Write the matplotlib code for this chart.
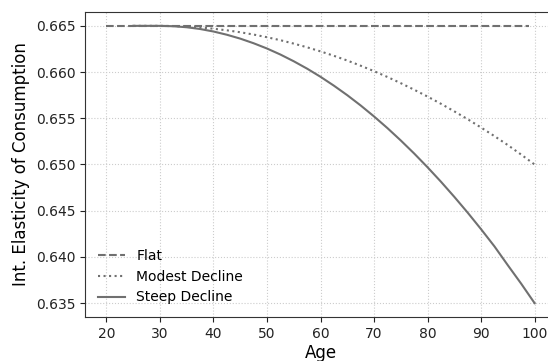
import matplotlib
matplotlib.use("Agg")
import matplotlib.pyplot as plt

flat_age = [20, 99]
flat_val = [0.665, 0.665]

curve_age = [25, 27.5, 30, 32.5, 35, 37.5, 40, 42.5, 45, 47.5, 50, 52.5, 55, 57.5, 60,
             62.5, 65, 67.5, 70, 72.5, 75, 77.5, 80, 82.5, 85, 87.5, 90, 92.5, 95, 97.5, 100]
modest_val = [0.66500, 0.66500, 0.66500, 0.66498, 0.66492, 0.66483, 0.66469, 0.66452,
              0.66431, 0.66406, 0.66377, 0.66345, 0.66308, 0.66268, 0.66224, 0.66176,
              0.66125, 0.66069, 0.66010, 0.65947, 0.65880, 0.65809, 0.65735, 0.65657,
              0.65575, 0.65490, 0.65400, 0.65307, 0.65210, 0.65107, 0.65000]
steep_val = [0.66500, 0.66500, 0.66500, 0.66496, 0.66485, 0.66466, 0.66439, 0.66404,
             0.66362, 0.66312, 0.66255, 0.66190, 0.66117, 0.66037, 0.65949, 0.65853,
             0.65750, 0.65639, 0.65520, 0.65394, 0.65260, 0.65119, 0.64970, 0.64814,
             0.64650, 0.64479, 0.64300, 0.64114, 0.63910, 0.63710, 0.63500]

labels = ["Flat", "Modest Decline", "Steep Decline"]
xticks = [20, 30, 40, 50, 60, 70, 80, 90, 100]

fig = plt.figure(figsize=(5.48, 3.61), dpi=100)
ax = fig.add_axes([85/548, 1 - 317/361, (556 - 85)/548, (317 - 12)/361])

col = "#707070"
ax.plot(flat_age, flat_val, ls="--", color=col, lw=1.5, label=labels[0])
ax.plot(curve_age, modest_val, ls=":", color=col, lw=1.5, label=labels[1])
ax.plot(curve_age, steep_val, ls="-", color=col, lw=1.5, label=labels[2])

ax.set_xlim(16, 104)
ax.set_ylim(0.6335, 0.6665)
ax.set_xticks(xticks)
ax.set_yticks([0.635, 0.640, 0.645, 0.650, 0.655, 0.660, 0.665])
ax.yaxis.set_major_formatter(matplotlib.ticker.FormatStrFormatter("%.3f"))
ax.grid(True, ls=":", color="#cccccc", lw=0.8)
ax.tick_params(labelsize=10, colors="#222222")
for s in ax.spines.values():
    s.set_color("#333333")
ax.spines["right"].set_visible(False)
ax.set_xlabel("Age", fontsize=12, labelpad=2)
ax.set_ylabel("Int. Elasticity of Consumption", fontsize=12)
ax.legend(loc="lower left", frameon=False, fontsize=10, handlelength=2.0,
          borderaxespad=0.5, labelspacing=0.5)

fig.savefig("out.png", dpi=100)
